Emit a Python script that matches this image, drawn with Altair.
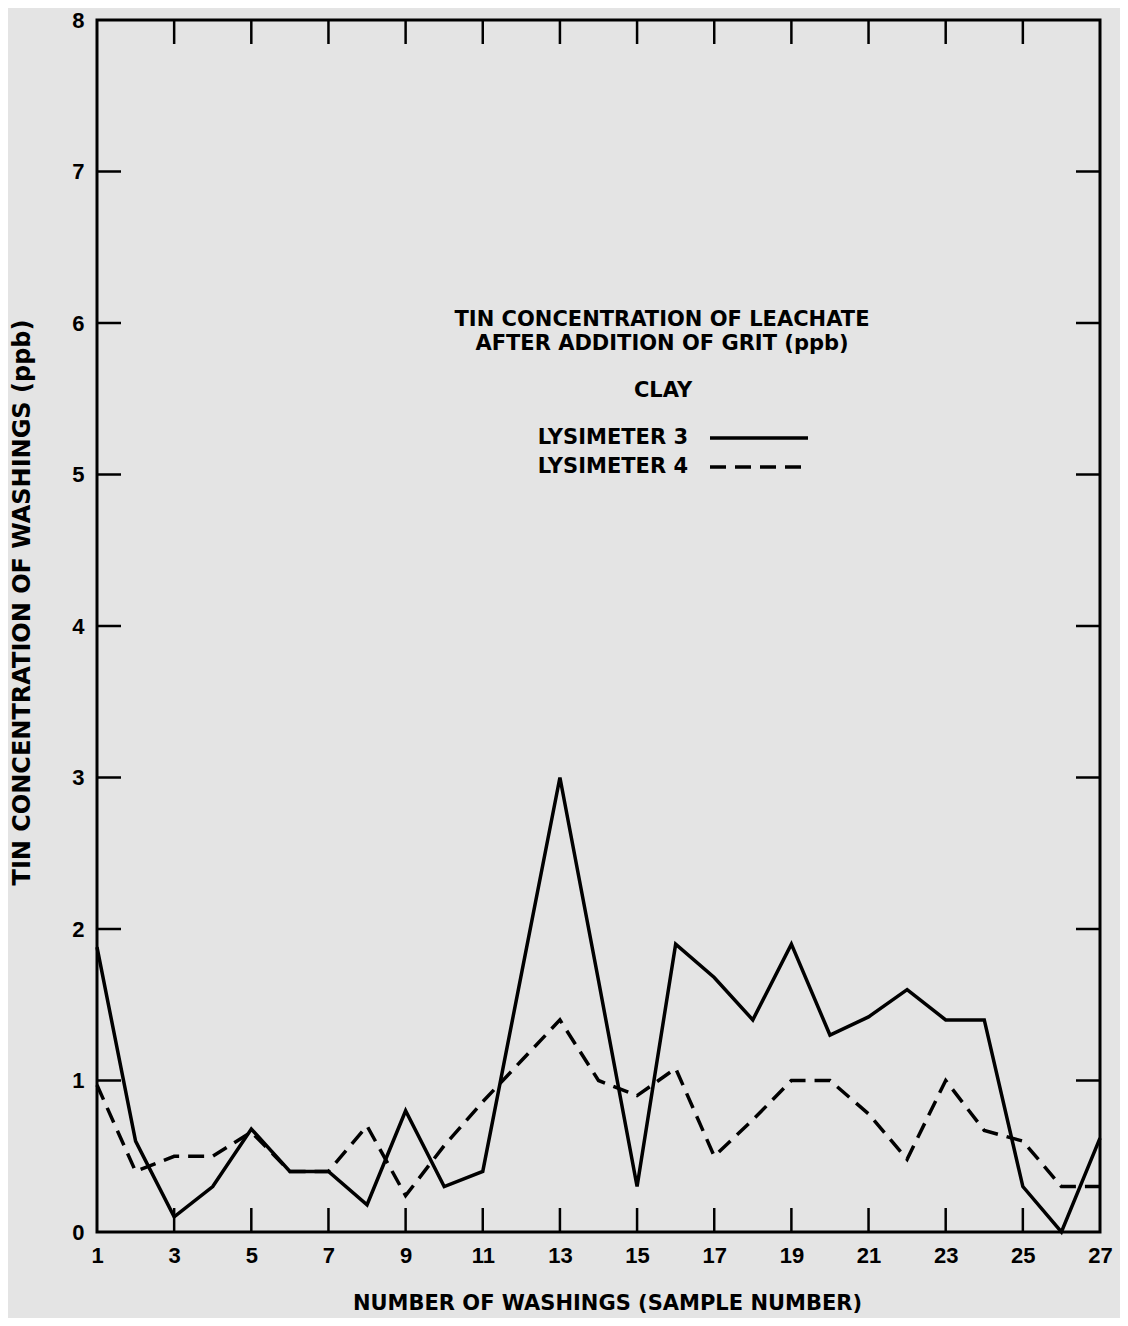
import altair as alt
import pandas as pd

washings = list(range(1, 28))
lysimeter3 = [1.88, 0.6, 0.1, 0.3, 0.68, 0.4, 0.4, 0.18, 0.8, 0.3, 0.4, 1.7, 3.0, 1.66, 0.3,
              1.9, 1.68, 1.4, 1.9, 1.3, 1.42, 1.6, 1.4, 1.4, 0.3, 0.0, 0.62]
lysimeter4 = [0.97, 0.4, 0.5, 0.5, 0.66, 0.4, 0.4, 0.7, 0.24, 0.57, 0.86, 1.13, 1.4, 1.0, 0.9,
              1.08, 0.5, 0.74, 1.0, 1.0, 0.78, 0.48, 1.0, 0.67, 0.6, 0.3, 0.3]
x_labels = list(range(1, 28, 2))
y_labels = list(range(0, 9))
x_inner_ticks = list(range(3, 26, 2))
y_inner_ticks = list(range(1, 8))

title_lines = ["TIN CONCENTRATION OF LEACHATE", "AFTER ADDITION OF GRIT (ppb)"]
subtitle = "CLAY"
series_names = ["LYSIMETER 3", "LYSIMETER 4"]
y_title = "TIN CONCENTRATION OF WASHINGS (ppb)"
x_title = "NUMBER OF WASHINGS (SAMPLE NUMBER)"

FONT = "Liberation Sans"
WIDE = "DejaVu Sans"
W, H = 1003, 1212

df3 = pd.DataFrame({"x": washings, "y": lysimeter3})
df4 = pd.DataFrame({"x": washings, "y": lysimeter4})

xscale = alt.Scale(domain=[1, 27], nice=False, zero=False)
yscale = alt.Scale(domain=[0, 8], nice=False)

xaxis = alt.Axis(values=x_labels, format="d", labelFontSize=22, labelFontWeight="bold",
                 labelFont=FONT, labelColor="black", tickSize=0, domain=False, grid=False,
                 labelPadding=13, title=x_title, titleFont=WIDE, titleFontSize=21,
                 titleFontWeight="bold", titleColor="black", titlePadding=26, labelFlush=False,
                 titleX=510)
yaxis = alt.Axis(values=y_labels, format="d", labelFontSize=22, labelFontWeight="bold",
                 labelFont=FONT, labelColor="black", tickSize=0, domain=False, grid=False,
                 labelPadding=13, title=y_title, titleFont=WIDE, titleFontSize=24,
                 titleFontWeight="bold", titleColor="black", titlePadding=37, labelFlush=False,
                 titleY=582)


def X(field):
    return alt.X(field, scale=xscale, axis=xaxis)


def Y(field):
    return alt.Y(field, scale=yscale, axis=yaxis)


line3 = alt.Chart(df3).mark_line(color="black", strokeWidth=3.5, strokeJoin="miter").encode(
    x=X("x:Q"), y=Y("y:Q"))
line4 = alt.Chart(df4).mark_line(color="black", strokeWidth=3.5, strokeDash=[16, 9]).encode(
    x=X("x:Q"), y=Y("y:Q"))

xt = pd.DataFrame({"v": x_inner_ticks})
yt = pd.DataFrame({"v": y_inner_ticks})
tick_kw = dict(color="black", thickness=2.5, size=24, opacity=1)
bottom_ticks = alt.Chart(xt).mark_tick(orient="vertical", yOffset=-12, **tick_kw).encode(
    x=X("v:Q"), y=alt.YDatum(0, scale=yscale, axis=yaxis))
top_ticks = alt.Chart(xt).mark_tick(orient="vertical", yOffset=12, **tick_kw).encode(
    x=X("v:Q"), y=alt.YDatum(8, scale=yscale, axis=yaxis))
left_ticks = alt.Chart(yt).mark_tick(orient="horizontal", xOffset=12, **tick_kw).encode(
    y=Y("v:Q"), x=alt.XDatum(1, scale=xscale, axis=xaxis))
right_ticks = alt.Chart(yt).mark_tick(orient="horizontal", xOffset=-12, **tick_kw).encode(
    y=Y("v:Q"), x=alt.XDatum(27, scale=xscale, axis=xaxis))

txt_kw = dict(font=WIDE, fontWeight="bold", color="black", baseline="middle")


def label(text, x, y, size, align):
    return alt.Chart(pd.DataFrame({"t": [text]})).mark_text(
        align=align, fontSize=size, **txt_kw).encode(
        text="t:N", x=alt.value(x), y=alt.value(y))


title1 = label(title_lines[0], 565, 300, 21, "center")
title2 = label(title_lines[1], 565, 324, 21, "center")
clay_text = label(subtitle, 566, 371, 21, "center")
s3_text = label(series_names[0], 591, 418, 21, "right")
s4_text = label(series_names[1], 591, 447, 21, "right")

legend_solid = alt.Chart(pd.DataFrame({"t": [series_names[0]]})).mark_rule(
    color="black", strokeWidth=3.5).encode(x=alt.value(613), x2=alt.value(711), y=alt.value(418))
legend_dash = alt.Chart(pd.DataFrame({"t": [series_names[1]]})).mark_rule(
    color="black", strokeWidth=3.5, strokeDash=[16, 9]).encode(
    x=alt.value(613), x2=alt.value(711), y=alt.value(447))

chart = alt.layer(
    line4, line3, bottom_ticks, top_ticks, left_ticks, right_ticks,
    title1, title2, clay_text, s3_text, s4_text, legend_solid, legend_dash,
).properties(
    width=W, height=H,
    autosize=alt.AutoSizeParams(type="none"),
    padding={"left": 89, "top": 12, "right": 20, "bottom": 86},
    background="#e4e4e4",
).configure_view(stroke="black", strokeWidth=3)

chart.save("out.html", embed_options={"renderer": "svg", "actions": False})
